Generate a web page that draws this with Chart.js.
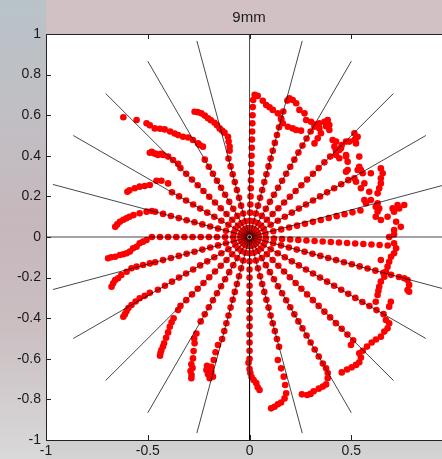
<!DOCTYPE html>
<html>
<head>
<meta charset="utf-8">
<script src="https://cdn.jsdelivr.net/npm/chart.js@4.4.1/dist/chart.umd.min.js"></script>
<style>
  html, body { margin: 0; padding: 0; }
  #frame {
    position: relative; width: 442px; height: 459px; overflow: hidden;
    background: linear-gradient(180deg, #d1c0c4 0%, #cebec2 45%, #ccbfc2 75%, #d0cdce 95%, #d4d4d4 100%);
  }
  #strip {
    position: absolute; left: 0; top: 0; width: 46px; height: 459px;
    background: linear-gradient(180deg, #b8c3c8 0%, #c1bfc4 25%, #c6b7bc 50%, #cbbfc2 72%, #d9d9d9 100%);
  }
  #chart { position: absolute; left: 0; top: 0; }
</style>
</head>
<body>
<div id="frame">
  <div id="strip"></div>
  <canvas id="chart" width="460" height="459"></canvas>
</div>
<script>
/* ============================================================
   9mm — radial dot traces over 15° reference spokes
   ============================================================ */

// ── Axis ticks ────────────────────────────────────────────
const xTickValues = [-1, -0.5, 0, 0.5, 1];
const xTickLabels = ['-1', '-0.5', '0', '0.5', '1'];
const yTickValues = [-1, -0.8, -0.6, -0.4, -0.2, 0, 0.2, 0.4, 0.6, 0.8, 1];
const yTickLabels = ['-1', '-0.8', '-0.6', '-0.4', '-0.2', '0', '0.2', '0.4', '0.6', '0.8', '1'];

// ── Reference spokes (black lines, unit length) ───────────
const lineAngles = [0, 15, 30, 45, 60, 75, 90, 105, 120, 135, 150, 165,
                    180, 195, 210, 225, 240, 255, 270, 285, 300, 315, 330, 345];
const lineLength = 1;

// ── Dot traces ────────────────────────────────────────────
// radial positions of the evenly spaced dots near the centre
const ringRadii = [0.018, 0.045, 0.08, 0.12, 0.16, 0.20, 0.24, 0.28, 0.32, 0.36,
                   0.40, 0.44, 0.48, 0.52, 0.56, 0.60, 0.64, 0.68, 0.72, 0.76];
// direction of each trace's straight run and how many rings it covers
const dotAngles = [-3.5, 13.5, 30, 45, 60, 75, 88.6, 105, 120, 135, 150, 165,
                   180, 195, 210, 225, 240, 255, 270, 285, 300, 315, 330, 345];
const straightCount = [18, 15, 15, 17, 17, 17, 17, 11, 12, 13, 12, 13,
                       13, 13, 14, 13, 13, 14, 16, 15, 19, 19, 20, 20];

// outer ends of each trace (x, y)
const tail000 = [[0.71,-0.031],[0.72,-0.056],[0.71,-0.08],[0.695,-0.097],[0.645,-0.113],[0.686,-0.122],[0.678,-0.146],[0.67,-0.171],[0.662,-0.196],[0.645,-0.22],[0.637,-0.245],[0.633,-0.265],[0.629,-0.286],[0.62,-0.319]];
const tail015 = [[0.564,0.182],[0.596,0.182],[0.572,0.166],[0.629,0.166],[0.62,0.149],[0.637,0.141],[0.629,0.125],[0.62,0.10],[0.645,0.084],[0.678,0.10],[0.703,0.141],[0.71,0.125],[0.727,0.158],[0.76,0.158],[0.735,0.141],[0.72,0.075],[0.743,0.05],[0.71,0.034],[0.71,0.012],[0.686,0.0]];
const tail030 = [[0.482,0.33],[0.474,0.322],[0.515,0.289],[0.523,0.272],[0.564,0.264],[0.547,0.24],[0.596,0.314],[0.645,0.338],[0.654,0.314],[0.645,0.289],[0.645,0.264],[0.637,0.24],[0.629,0.215],[0.588,0.223]];
const tail045 = [[0.449,0.437],[0.441,0.388],[0.474,0.404],[0.474,0.396],[0.482,0.371],[0.474,0.47],[0.49,0.47],[0.515,0.478],[0.515,0.511],[0.523,0.486],[0.523,0.461],[0.531,0.494],[0.539,0.396],[0.539,0.346],[0.547,0.33],[0.556,0.314],[0.531,0.33]];
const tail060 = [[0.343,0.56],[0.368,0.568],[0.384,0.576],[0.392,0.552],[0.392,0.527],[0.376,0.545],[0.408,0.478],[0.425,0.47],[0.417,0.445],[0.441,0.429],[0.425,0.404]];
const tail075 = [[0.186,0.672],[0.196,0.683],[0.212,0.675],[0.229,0.659],[0.245,0.626],[0.27,0.609],[0.278,0.576],[0.302,0.568],[0.319,0.543],[0.343,0.535],[0.351,0.511],[0.335,0.486],[0.319,0.461]];
const tail090 = [[0.018,0.675],[0.025,0.70],[0.04,0.695],[0.065,0.671],[0.082,0.65],[0.098,0.639],[0.114,0.626],[0.139,0.609],[0.155,0.585],[0.163,0.56],[0.188,0.543],[0.212,0.535],[0.229,0.527],[0.253,0.524]];
const tail105 = [[-0.098,0.425],[-0.098,0.445],[-0.103,0.47],[-0.106,0.494],[-0.123,0.514],[-0.135,0.525],[-0.147,0.535],[-0.16,0.55],[-0.172,0.563],[-0.19,0.575],[-0.204,0.585],[-0.22,0.598],[-0.237,0.609],[-0.255,0.615],[-0.27,0.617]];
const tail120 = [[-0.229,0.445],[-0.245,0.453],[-0.253,0.461],[-0.278,0.478],[-0.302,0.49],[-0.327,0.494],[-0.351,0.502],[-0.368,0.51],[-0.39,0.52],[-0.417,0.53],[-0.44,0.533],[-0.466,0.535],[-0.49,0.55],[-0.506,0.56],[-0.555,0.576],[-0.62,0.59]];
const tail135 = [[-0.351,0.36],[-0.376,0.379],[-0.40,0.396],[-0.425,0.404],[-0.435,0.41],[-0.45,0.404],[-0.46,0.41],[-0.47,0.412],[-0.48,0.42],[-0.49,0.415]];
const tail150 = [[-0.40,0.264],[-0.433,0.277],[-0.457,0.277],[-0.49,0.256],[-0.515,0.251],[-0.54,0.248],[-0.564,0.24],[-0.59,0.23],[-0.6,0.223]];
const tail165 = [[-0.48,0.128],[-0.506,0.125],[-0.54,0.117],[-0.57,0.108],[-0.59,0.10],[-0.605,0.092],[-0.62,0.085],[-0.637,0.075],[-0.65,0.062],[-0.66,0.05]];
const tail180 = [[-0.506,-0.015],[-0.523,-0.023],[-0.54,-0.031],[-0.555,-0.048],[-0.572,-0.056],[-0.588,-0.072],[-0.604,-0.08],[-0.62,-0.085],[-0.637,-0.089],[-0.66,-0.097],[-0.68,-0.10],[-0.695,-0.105]];
const tail195 = [[-0.49,-0.13],[-0.523,-0.138],[-0.555,-0.146],[-0.58,-0.154],[-0.604,-0.171],[-0.63,-0.187],[-0.646,-0.203],[-0.66,-0.212],[-0.67,-0.228],[-0.678,-0.245]];
const tail210 = [[-0.49,-0.275],[-0.515,-0.29],[-0.54,-0.302],[-0.56,-0.318],[-0.58,-0.335],[-0.595,-0.35],[-0.604,-0.365],[-0.612,-0.38],[-0.62,-0.393]];
const tail225 = [[-0.351,-0.36],[-0.373,-0.40],[-0.383,-0.42],[-0.392,-0.442],[-0.40,-0.47],[-0.41,-0.496],[-0.42,-0.524],[-0.425,-0.54],[-0.433,-0.557],[-0.437,-0.57],[-0.44,-0.585]];
const tail240 = [[-0.261,-0.475],[-0.272,-0.50],[-0.27,-0.524],[-0.275,-0.562],[-0.278,-0.598],[-0.286,-0.627],[-0.28,-0.645],[-0.29,-0.66],[-0.285,-0.68],[-0.286,-0.696]];
const tail255 = [[-0.155,-0.532],[-0.167,-0.568],[-0.176,-0.606],[-0.188,-0.639],[-0.209,-0.634],[-0.212,-0.655],[-0.204,-0.676],[-0.188,-0.664],[-0.196,-0.696],[-0.18,-0.688]];
const tail270 = [[-0.005,-0.62],[0.0,-0.65],[0.004,-0.67],[0.01,-0.69],[0.02,-0.705],[0.033,-0.72],[0.04,-0.74],[0.049,-0.754]];
const tail285 = [[0.139,-0.606],[0.155,-0.647],[0.168,-0.688],[0.175,-0.729],[0.18,-0.77],[0.172,-0.795],[0.155,-0.815],[0.139,-0.824],[0.123,-0.836],[0.106,-0.844]];
const tail300 = [[0.376,-0.647],[0.384,-0.67],[0.384,-0.696],[0.376,-0.726],[0.36,-0.737],[0.34,-0.747],[0.315,-0.76],[0.3,-0.773],[0.283,-0.778],[0.257,-0.775]];
const tail315 = [[0.498,-0.532],[0.539,-0.573],[0.547,-0.594],[0.539,-0.617],[0.523,-0.63],[0.502,-0.642],[0.479,-0.653],[0.453,-0.667]];
const tail330 = [[0.67,-0.409],[0.686,-0.425],[0.678,-0.45],[0.662,-0.466],[0.645,-0.491],[0.621,-0.505],[0.60,-0.52],[0.577,-0.54],[0.556,-0.56]];
const tail345 = [[0.76,-0.203],[0.776,-0.212],[0.784,-0.236],[0.776,-0.261],[0.784,-0.27],[0.694,-0.319],[0.686,-0.343]];

const spokeTails = [tail000, tail015, tail030, tail045, tail060, tail075, tail090, tail105,
                    tail120, tail135, tail150, tail165, tail180, tail195, tail210, tail225,
                    tail240, tail255, tail270, tail285, tail300, tail315, tail330, tail345];

// ── Build datasets ────────────────────────────────────────
const rad = d => d * Math.PI / 180;

const spokeLinePts = [];
lineAngles.forEach(a => {
    spokeLinePts.push({ x: 0, y: 0 });
    spokeLinePts.push({ x: lineLength * Math.cos(rad(a)), y: lineLength * Math.sin(rad(a)) });
    spokeLinePts.push({ x: null, y: null });
});

const dotPts = [];
dotAngles.forEach((a, i) => {
    for (let k = 0; k < straightCount[i]; k++) {
        dotPts.push({ x: ringRadii[k] * Math.cos(rad(a)), y: ringRadii[k] * Math.sin(rad(a)) });
    }
    spokeTails[i].forEach(p => dotPts.push({ x: p[0], y: p[1] }));
});

// ── Frame, inward ticks and title (MATLAB look) ───────────
const framePlugin = {
    id: 'frame',
    beforeDatasetsDraw(chart) {
        const c = chart.ctx;
        const { left, top, right, bottom } = chart.chartArea;
        c.save();
        c.fillStyle = '#ffffff';
        c.fillRect(left, top, right - left, bottom - top);
        c.restore();
    },
    afterDraw(chart) {
        const c = chart.ctx;
        const { left, top, right, bottom } = chart.chartArea;
        const xs = chart.scales.x, ys = chart.scales.y;
        c.save();
        c.strokeStyle = '#222';
        c.lineWidth = 1;
        c.strokeRect(left + 0.5, top + 0.5, right - left, bottom - top);
        c.beginPath();
        xTickValues.forEach(v => {
            const px = Math.round(xs.getPixelForValue(v)) + 0.5;
            c.moveTo(px, bottom); c.lineTo(px, bottom - 5);
            c.moveTo(px, top); c.lineTo(px, top + 5);
        });
        yTickValues.forEach(v => {
            const py = Math.round(ys.getPixelForValue(v)) + 0.5;
            c.moveTo(left, py); c.lineTo(left + 5, py);
            c.moveTo(right, py); c.lineTo(right - 5, py);
        });
        c.stroke();
        c.fillStyle = '#1a1a1a';
        c.font = '15px "Liberation Sans", Arial, sans-serif';
        c.textAlign = 'center';
        c.textBaseline = 'alphabetic';
        c.fillText('9mm', 249, 21.5);
        c.restore();
    }
};

const tickFont = { family: '"Liberation Sans", Arial, sans-serif', size: 14 };

new Chart(document.getElementById('chart'), {
    type: 'scatter',
    data: {
        datasets: [
            {
                data: [{ x: 0, y: 0 }],
                pointRadius: 2,
                backgroundColor: '#000',
                borderColor: 'rgba(255,255,255,0.6)',
                borderWidth: 1
            },
            {
                data: spokeLinePts,
                showLine: true,
                spanGaps: false,
                borderColor: 'rgba(0,0,0,0.72)',
                borderWidth: 1,
                pointRadius: 0
            },
            {
                data: dotPts,
                pointRadius: 3.3,
                backgroundColor: '#ff0000',
                borderWidth: 0
            }
        ]
    },
    options: {
        responsive: false,
        animation: false,
        layout: { padding: { top: 34, right: 6, left: 0, bottom: 0 } },
        plugins: { legend: { display: false }, tooltip: { enabled: false } },
        scales: {
            x: {
                type: 'linear', min: -1, max: 1,
                afterBuildTicks: axis => { axis.ticks = xTickValues.map(v => ({ value: v })); },
                afterFit: axis => { axis.height = 19; },
                grid: { display: false, drawTicks: false },
                border: { display: false },
                ticks: {
                    autoSkip: false, maxRotation: 0, padding: 3,
                    color: '#1a1a1a', font: tickFont,
                    callback: (v, i) => xTickLabels[i]
                }
            },
            y: {
                type: 'linear', min: -1, max: 1,
                afterBuildTicks: axis => { axis.ticks = yTickValues.map(v => ({ value: v })); },
                afterFit: axis => { axis.width = 46; },
                grid: { display: false, drawTicks: false },
                border: { display: false },
                ticks: {
                    autoSkip: false, padding: 5,
                    color: '#1a1a1a', font: tickFont,
                    callback: (v, i) => yTickLabels[i]
                }
            }
        }
    },
    plugins: [framePlugin]
});
</script>
</body>
</html>
